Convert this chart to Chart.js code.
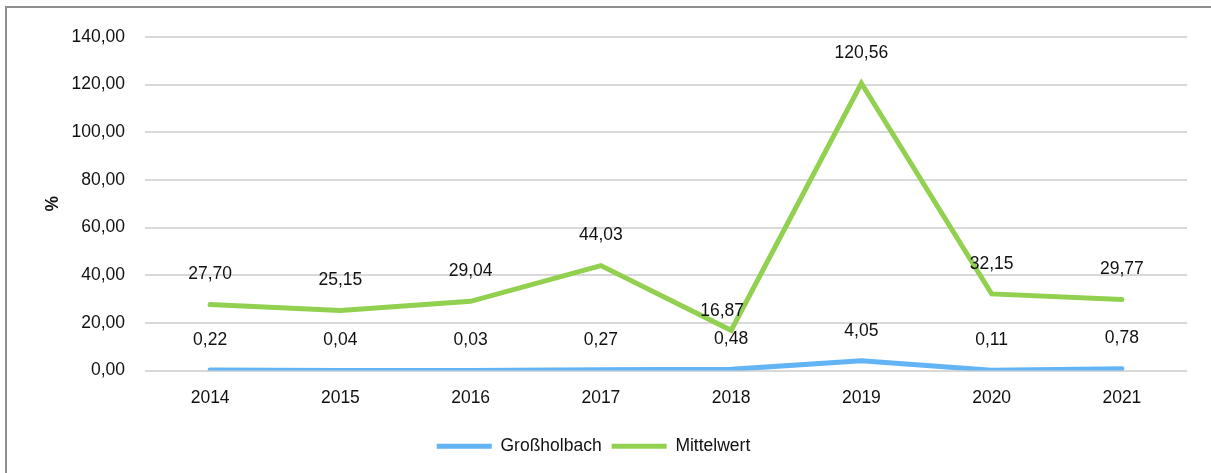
<!DOCTYPE html>
<html>
<head>
<meta charset="utf-8">
<script src="https://cdn.jsdelivr.net/npm/chart.js@4.4.1/dist/chart.umd.min.js"></script>
<style>
  html, body { margin: 0; padding: 0; background: #fff; overflow: hidden; }
  #wrap { position: relative; width: 1211px; height: 473px; }
  #frame { position: absolute; left: 5px; top: 6px; width: 1300px; height: 600px; border: 2px solid #8f8f8f; box-sizing: border-box; }
  canvas { position: absolute; left: 0; top: 0; }
</style>
</head>
<body>
<div id="wrap">
  <div id="frame"></div>
  <canvas id="c" width="1211" height="473"></canvas>
</div>
<script>
const years = ['2014', '2015', '2016', '2017', '2018', '2019', '2020', '2021'];
const grossholbach = [0.22, 0.04, 0.03, 0.27, 0.48, 4.05, 0.11, 0.78];
const mittelwert = [27.70, 25.15, 29.04, 44.03, 16.87, 120.56, 32.15, 29.77];
const seriesNames = ['Großholbach', 'Mittelwert'];
const yTitle = '%';

const FONT = '"Liberation Sans", Arial, sans-serif';
const FS = 17.5;
const fmt = v => Number(v).toFixed(2).replace('.', ',');

const labelPlugin = {
  id: 'valueLabels',
  afterDatasetsDraw(chart) {
    const ctx = chart.ctx;
    ctx.save();
    ctx.font = FS + 'px ' + FONT;
    ctx.fillStyle = '#111';
    ctx.textAlign = 'center';
    ctx.textBaseline = 'middle';
    chart.data.datasets.forEach((ds, di) => {
      const meta = chart.getDatasetMeta(di);
      meta.data.forEach((pt, i) => {
        let dx = 0, dy = -30;
        if (di === 1 && i === 4) { dx = -9; dy = -19; }
        ctx.fillText(fmt(ds.data[i]), pt.x + dx, pt.y + dy);
      });
    });
    ctx.restore();
  }
};

new Chart(document.getElementById('c'), {
  type: 'line',
  data: {
    labels: years,
    datasets: [
      { label: seriesNames[0], data: grossholbach, borderColor: '#63b4f4', backgroundColor: '#63b4f4',
        borderWidth: 5, borderCapStyle: 'round', borderJoinStyle: 'round', pointRadius: 0, tension: 0, pointStyle: 'line' },
      { label: seriesNames[1], data: mittelwert, borderColor: '#92d050', backgroundColor: '#92d050',
        borderWidth: 5, borderCapStyle: 'round', borderJoinStyle: 'miter', pointRadius: 0, tension: 0, pointStyle: 'line' }
    ]
  },
  options: {
    responsive: false,
    animation: false,
    layout: { padding: { left: 0, right: 24, top: 37, bottom: 8 } },
    plugins: {
      legend: {
        position: 'bottom',
        labels: {
          font: { family: FONT, size: FS },
          color: '#111',
          usePointStyle: true,
          pointStyleWidth: 55,
          boxHeight: 5,
          padding: 10
        }
      },
      tooltip: { enabled: false }
    },
    scales: {
      x: {
        offset: true,
        grid: { display: false, drawTicks: false },
        border: { display: false },
        ticks: { font: { family: FONT, size: FS }, color: '#111', padding: 17, maxRotation: 0 },
        afterFit(s) { s.height = 57; }
      },
      y: {
        min: 0, max: 140,
        ticks: { stepSize: 20, font: { family: FONT, size: FS }, color: '#111', padding: 20, callback: v => fmt(v) },
        grid: { color: '#d9d9d9', lineWidth: 2, drawTicks: false },
        border: { display: false },
        title: { display: true, text: yTitle, font: { family: FONT, size: FS, weight: 'bold' }, color: '#111', padding: { top: 43, bottom: 0 } },
        afterFit(s) { s.width = 145; }
      }
    }
  },
  plugins: [labelPlugin]
});
</script>
</body>
</html>
